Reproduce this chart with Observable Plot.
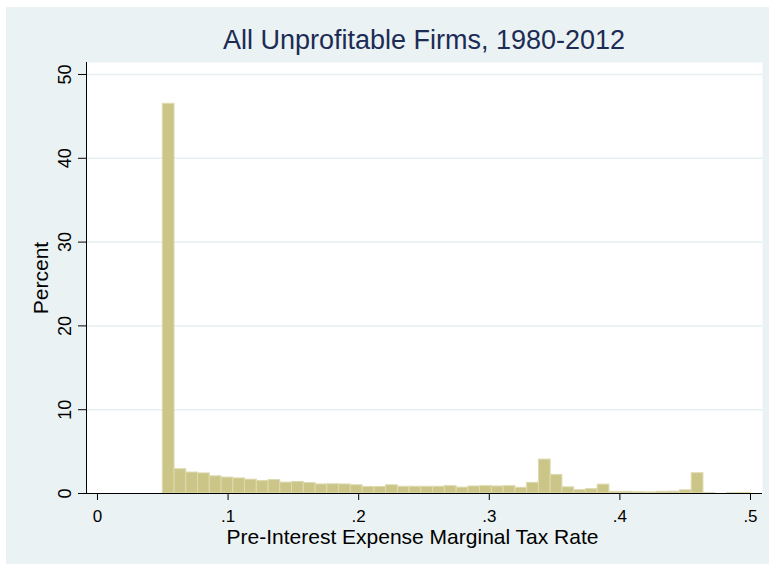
<!DOCTYPE html>
<html><head><meta charset="utf-8">
<script src="https://cdn.jsdelivr.net/npm/d3@7"></script>
<script src="https://cdn.jsdelivr.net/npm/@observablehq/plot@0.6"></script>
<style>
html,body{margin:0;padding:0;background:#fff;}
#wrap{position:relative;width:769px;height:564px;overflow:hidden;font-family:"Liberation Sans",Arial,sans-serif;}
#bg{position:absolute;left:6px;top:7px;right:0;bottom:0;background:#eaf2f3;}
#title{position:absolute;left:86px;width:676px;top:27px;text-align:center;font-size:27px;color:#1c2c55;line-height:1;white-space:nowrap;}
#chart{position:absolute;left:0;top:0;}
</style></head><body>
<div id="wrap"><div id="bg"></div><div id="title"></div><div id="chart"></div></div>
<script>
const titleText = "All Unprofitable Firms, 1980-2012";
const xLabel = "Pre-Interest Expense Marginal Tax Rate";
const yLabel = "Percent";
const binLo = [0.050, 0.059, 0.068, 0.077, 0.086, 0.095, 0.104, 0.113, 0.122, 0.131,
               0.140, 0.149, 0.158, 0.167, 0.176, 0.185, 0.194, 0.203, 0.212, 0.221,
               0.230, 0.239, 0.248, 0.257, 0.266, 0.275, 0.284, 0.293, 0.302, 0.311,
               0.320, 0.329, 0.338, 0.347, 0.356, 0.365, 0.374, 0.383, 0.392, 0.401,
               0.410, 0.419, 0.428, 0.437, 0.446, 0.455, 0.464, 0.473, 0.482, 0.491];
const binWidth = 0.009;
const percent = [46.5, 2.9, 2.5, 2.4, 2.05, 1.9, 1.8, 1.65, 1.5, 1.6,
                 1.3, 1.38, 1.24, 1.08, 1.1, 1.08, 0.98, 0.78, 0.78, 0.98,
                 0.8, 0.8, 0.8, 0.8, 0.88, 0.7, 0.84, 0.88, 0.84, 0.88,
                 0.68, 1.27, 4.05, 2.22, 0.74, 0.4, 0.52, 1.06, 0.2, 0.2,
                 0.15, 0.13, 0.2, 0.22, 0.38, 2.42, 0.05, 0.0, 0.05, 0.05];
const xTicks = [0, 0.1, 0.2, 0.3, 0.4, 0.5];
const yTicks = [0, 10, 20, 30, 40, 50];
const xDomain = [-0.0084, 0.5092];
const yDomain = [0, 51.43];

document.getElementById("title").textContent = titleText;
const data = binLo.map((lo, i) => ({x1: lo, x2: lo + binWidth, y: percent[i]}));
const fmt = d => d === 0 ? "0" : d3.format(".1f")(d).replace(/^0/, "");
const font = "Liberation Sans, Arial, sans-serif";
const plot = Plot.plot({
  width: 769, height: 564,
  marginLeft: 86, marginRight: 7, marginTop: 62, marginBottom: 71,
  style: {background: "transparent", fontFamily: font, overflow: "visible", color: "black"},
  x: {domain: xDomain},
  y: {domain: yDomain},
  marks: [
    Plot.frame({fill: "white", stroke: null}),
    Plot.gridY(yTicks.filter(d => d > 0), {stroke: "#e6eff1", strokeOpacity: 1, strokeWidth: 1.5}),
    Plot.rectY(data, {x1: "x1", x2: "x2", y: "y", fill: "#cbc587", stroke: "#dedab0", strokeWidth: 1}),
    Plot.ruleY([yDomain[0]], {stroke: "black"}),
    Plot.ruleX([xDomain[0]], {stroke: "black"}),
    Plot.axisX({ticks: xTicks, tickFormat: fmt, tickSize: 7, tickPadding: 9, fontSize: 17, label: null}),
    Plot.text([xLabel], {text: d => d, frameAnchor: "bottom", lineAnchor: "bottom", dy: 50, dx: -12, fontSize: 21, fill: "black"}),
    Plot.axisY({ticks: yTicks, tickSize: 8, tickPadding: 8, tickRotate: -90, fontSize: 18, label: null}),
    Plot.axisY({ticks: [], label: yLabel, labelAnchor: "center", labelOffset: 53, labelArrow: "none", fontSize: 21, tickSize: 0})
  ]
});
document.getElementById("chart").appendChild(plot);
</script>
</body></html>
